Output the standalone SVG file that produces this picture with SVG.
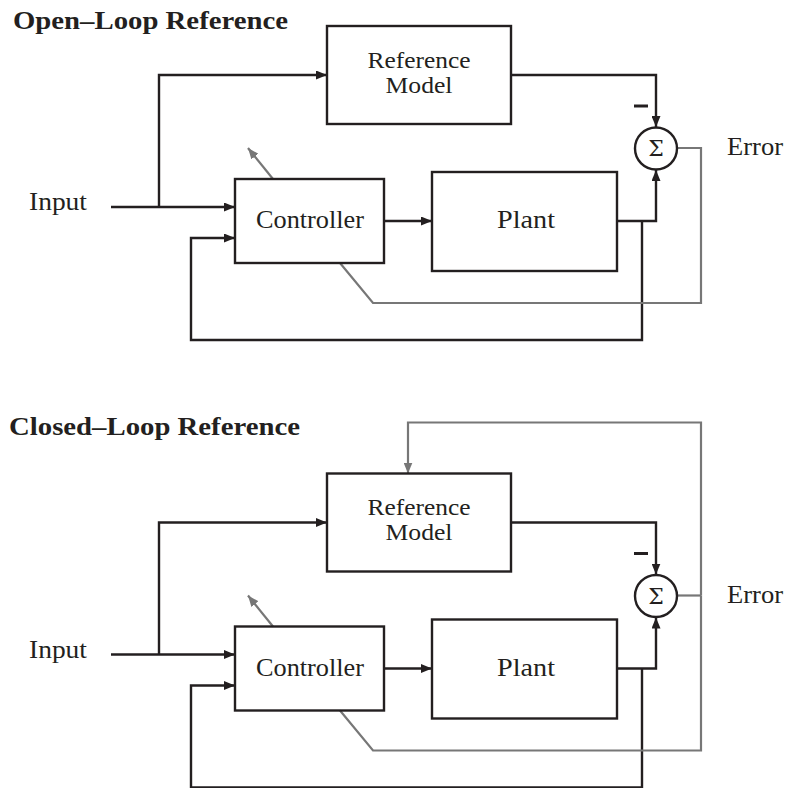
<svg xmlns="http://www.w3.org/2000/svg" width="785" height="788" viewBox="0 0 785 788">
<style>
.box{fill:none;stroke:#231f20;stroke-width:2.4}
.sum{fill:#fff;stroke:#231f20;stroke-width:2.4}
.w{fill:none;stroke:#231f20;stroke-width:2.4;stroke-linejoin:miter}
.m{fill:none;stroke:#231f20;stroke-width:3}
.g{fill:none;stroke:#777;stroke-width:2.2}
.t{font-family:"Liberation Serif","DejaVu Serif",serif;font-size:26px;fill:#231f20}
.r{font-size:22.5px}
.c{text-anchor:middle}
.h{font-family:"Liberation Serif","DejaVu Serif",serif;font-size:25px;font-weight:bold;fill:#231f20}
.s{font-family:"DejaVu Serif","Liberation Serif",serif;font-size:22px;fill:#231f20;text-anchor:middle}
</style>
<defs>
<marker id="ab" viewBox="0 0 11 9" refX="11" refY="4.5" markerWidth="11" markerHeight="9" markerUnits="userSpaceOnUse" orient="auto"><path d="M0,0 L11,4.5 L0,9 z" fill="#231f20"/></marker>
<marker id="ag" viewBox="0 0 11 9" refX="11" refY="4.5" markerWidth="11" markerHeight="9" markerUnits="userSpaceOnUse" orient="auto"><path d="M0,0 L11,4.5 L0,9 z" fill="#777"/></marker>
</defs>

<g id="openloop">
<text id="title-open" class="h" x="13" y="29" textLength="275" lengthAdjust="spacingAndGlyphs">Open–Loop Reference</text>
<g id="connectors-open">
<path class="w" d="M111,207 H235" marker-end="url(#ab)"/>
<path class="w" d="M159,207 V75 H327" marker-end="url(#ab)"/>
<path class="w" d="M511,75 H656 V127" marker-end="url(#ab)"/>
<path class="w" d="M384,221 H432" marker-end="url(#ab)"/>
<path class="w" d="M617,221 H656 V170" marker-end="url(#ab)"/>
<path class="w" d="M642,221 V340 H191 V238 H235" marker-end="url(#ab)"/>
<path class="g" d="M273,179 L248,148" marker-end="url(#ag)"/>
<path class="g" d="M677,148 H701 V303 H373 L340,263"/>
<path class="m" d="M634,106 H648"/>
</g>
<g id="input-open"><text class="t" x="29" y="210" textLength="58" lengthAdjust="spacingAndGlyphs">Input</text></g>
<g id="refmodel-open"><rect class="box" x="327" y="26" width="184" height="98"/>
<text class="t r c" x="419" y="67.5" textLength="103" lengthAdjust="spacingAndGlyphs">Reference</text>
<text class="t r c" x="419" y="92.5" textLength="67" lengthAdjust="spacingAndGlyphs">Model</text></g>
<g id="controller-open"><rect class="box" x="235" y="179" width="149" height="84"/>
<text class="t c" x="310" y="228" textLength="108" lengthAdjust="spacingAndGlyphs">Controller</text></g>
<g id="plant-open"><rect class="box" x="432" y="172" width="185" height="99"/>
<text class="t c" x="526" y="228" textLength="58" lengthAdjust="spacingAndGlyphs">Plant</text></g>
<g id="sum-open"><circle class="sum" cx="656" cy="148.5" r="21"/>
<text class="s" x="656" y="156">Σ</text></g>
<g id="error-open"><text class="t" x="727" y="155" textLength="56" lengthAdjust="spacingAndGlyphs">Error</text></g>
</g>

<g id="closedloop" transform="translate(0,447.5)">
<text id="title-closed" class="h" x="9" y="-13" textLength="291" lengthAdjust="spacingAndGlyphs">Closed–Loop Reference</text>
<g id="connectors-closed">
<path class="w" d="M111,207 H235" marker-end="url(#ab)"/>
<path class="w" d="M159,207 V75 H327" marker-end="url(#ab)"/>
<path class="w" d="M511,75 H656 V127" marker-end="url(#ab)"/>
<path class="w" d="M384,221 H432" marker-end="url(#ab)"/>
<path class="w" d="M617,221 H656 V170" marker-end="url(#ab)"/>
<path class="w" d="M642,221 V340 H191 V238 H235" marker-end="url(#ab)"/>
<path class="g" d="M273,179 L248,148" marker-end="url(#ag)"/>
<path class="g" d="M677,148 H701"/>
<path class="g" d="M701,148 V303 H373 L340,263"/>
<path class="g" d="M701,148 V-25 H408 V26" marker-end="url(#ag)"/>
<path class="m" d="M634,106 H648"/>
</g>
<g id="input-closed"><text class="t" x="29" y="210" textLength="58" lengthAdjust="spacingAndGlyphs">Input</text></g>
<g id="refmodel-closed"><rect class="box" x="327" y="26" width="184" height="98"/>
<text class="t r c" x="419" y="67.5" textLength="103" lengthAdjust="spacingAndGlyphs">Reference</text>
<text class="t r c" x="419" y="92.5" textLength="67" lengthAdjust="spacingAndGlyphs">Model</text></g>
<g id="controller-closed"><rect class="box" x="235" y="179" width="149" height="84"/>
<text class="t c" x="310" y="228" textLength="108" lengthAdjust="spacingAndGlyphs">Controller</text></g>
<g id="plant-closed"><rect class="box" x="432" y="172" width="185" height="99"/>
<text class="t c" x="526" y="228" textLength="58" lengthAdjust="spacingAndGlyphs">Plant</text></g>
<g id="sum-closed"><circle class="sum" cx="656" cy="148.5" r="21"/>
<text class="s" x="656" y="156">Σ</text></g>
<g id="error-closed"><text class="t" x="727" y="155" textLength="56" lengthAdjust="spacingAndGlyphs">Error</text></g>
</g>
</svg>
